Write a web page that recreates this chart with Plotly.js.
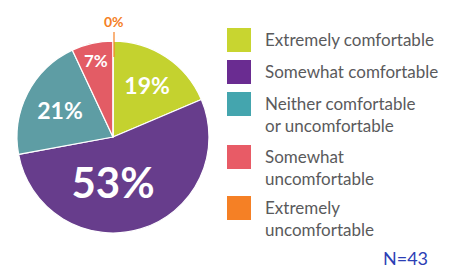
<!DOCTYPE html>
<html><head><meta charset="utf-8">
<script src="https://cdn.plot.ly/plotly-3.0.1.min.js"></script>
<style>html,body{margin:0;padding:0;background:#fff}</style>
</head><body><div id="c" style="width:451px;height:270px"></div>
<script>
var labels = ["Extremely comfortable","Somewhat comfortable","Neither comfortable<br>or uncomfortable","Somewhat<br>uncomfortable","Extremely<br>uncomfortable"];
var counts = [8, 23, 9, 3, 0];
var pieColors = ["#C4D22F","#673D8C","#5E9DA4","#E35C65","#F58025"];
var legendColors = ["#C8D530","#6A2C91","#44A5AE","#E85B66","#F58025"];
var textSizes = [23, 42, 23, 17, 14];
var N = 43;

var total = counts.reduce(function(a,b){return a+b;},0);
var pctText = counts.map(function(v){return Math.round(v/total*100)+"%";});

var data = [{
  type:"pie", values:counts, labels:labels, text:pctText,
  textinfo:"text", sort:false, direction:"clockwise", rotation:0,
  marker:{colors:pieColors, line:{color:"#ffffff", width:1.2}},
  textposition:"inside", insidetextorientation:"horizontal",
  textfont:{family:"Lato, sans-serif", size:textSizes, color:"#ffffff", weight:700},
  hoverinfo:"none", showlegend:false,
  domain:{x:[0.0377,0.4634], y:[0.137,0.848]}
}];

var shapes = [], annotations = [];
var rowY = [40, 72, 104, 157, 208];
labels.forEach(function(l,i){
  var y = rowY[i];
  shapes.push({type:"rect", xref:"paper", yref:"paper",
    x0:227/451, x1:251/451, y0:1-(y+12)/270, y1:1-(y-12)/270,
    fillcolor:legendColors[i], line:{width:0}});
  annotations.push({xref:"paper", yref:"paper", x:263/451, y:1-(y-13)/270,
    xanchor:"left", yanchor:"top", align:"left", showarrow:false,
    text:l, font:{family:"Lato, sans-serif", size:17, color:"#5A5A5C"}});
});
annotations.push({xref:"paper", yref:"paper", x:114/451, y:1-57/270,
  ax:0, ay:-25, showarrow:true, arrowhead:0, arrowwidth:1.2, arrowcolor:pieColors[4],
  text:pctText[4], font:{family:"Lato, sans-serif", size:14, color:pieColors[4], weight:700},
  yanchor:"bottom"});
annotations.push({xref:"paper", yref:"paper", x:429/451, y:1-258/270,
  xanchor:"right", yanchor:"middle", showarrow:false, borderpad:0,
  text:"N="+N, font:{family:"Lato, sans-serif", size:18, color:"#2B3EB5"}});

var layout = {width:451, height:270, margin:{l:0,r:0,t:0,b:0},
  paper_bgcolor:"#fff", plot_bgcolor:"#fff", shapes:shapes, annotations:annotations};
Plotly.newPlot("c", data, layout, {displayModeBar:false, staticPlot:true});
</script></body></html>
